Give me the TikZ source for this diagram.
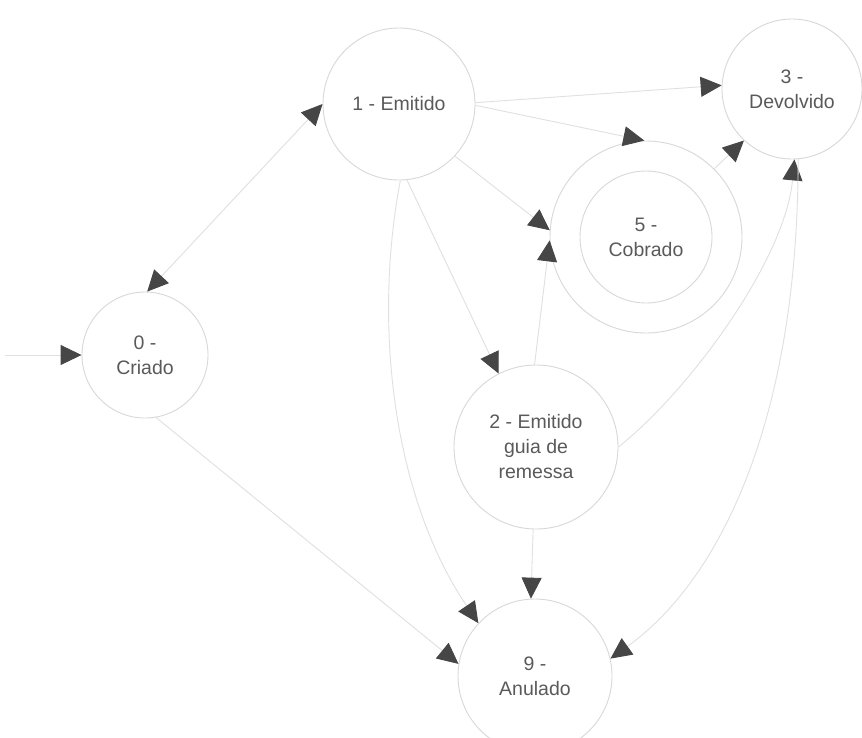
\documentclass[tikz,border=0pt]{standalone}
\usepackage{fontspec}
\setmainfont{Liberation Sans}
\usetikzlibrary{arrows.meta}
\definecolor{ringgrey}{HTML}{D8D8D8}
\definecolor{linkgrey}{HTML}{E0E0E0}
\definecolor{tipgrey}{HTML}{464646}
\definecolor{labelgrey}{HTML}{5A5A5A}
\tikzset{
  tipshape/.tip={Triangle[length=21pt,width=20pt,color=tipgrey,fill=tipgrey]},
}
\begin{document}
\begin{tikzpicture}[x=1pt,y=1pt,
  state/.style={circle, draw=ringgrey, line width=0.9pt, inner sep=0pt,
    align=center, text=labelgrey, font=\fontsize{19.5}{25}\selectfont},
  link/.style={draw=linkgrey, line width=0.9pt, -tipshape},
  twoway/.style={draw=linkgrey, line width=0.9pt, tipshape-tipshape},
]
\useasboundingbox[fill=white] (0,0) rectangle (862,-737);

% states
\node[state, minimum size=126pt] (n0) at (145,-355) {0 -\\Criado};
\node[state, minimum size=152pt] (n1) at (399,-104) {1 - Emitido};
\node[state, minimum size=140pt] (n3) at (792,-89) {3 -\\Devolvido};
\node[state, minimum size=192pt] (n5) at (646,-237) {5 -\\Cobrado};
\draw[ringgrey, line width=0.9pt] (n5.center) circle[radius=66];
\node[state, minimum size=164pt] (n2) at (536,-447) {2 - Emitido\\guia de\\remessa};
\node[state, minimum size=154pt] (n9) at (535,-676) {9 -\\Anulado};

% entry
\coordinate (start) at (5,-355);
\draw[link] (start) -- (n0.west);

% transitions
\draw[twoway] (n0.88) -- (n1.180);
\draw[link] (n1.1) -- (n3.177);
\draw[link] (n1.-1) -- (n5.91);
\draw[link] (n1.-43) -- (n5.176);
\draw[link] (n2.91) -- (n5.-178);
\draw[link] (n1.-84) -- (n2.117);
\draw[link] (n1.-89) .. controls (372,-330) and (395,-500) .. (n9.137);
\draw[link] (n0.-80) -- (n9.171);
\draw[link] (n2.-92) -- (n9.93);
\draw[link] (n2.0) .. controls (690,-390) and (785,-260) .. (n3.-88);
\draw[link] (n3.-85) .. controls (798,-420) and (720,-580) .. (n9.13);
\draw[link] (n5.45) -- (n3.227);
\end{tikzpicture}
\end{document}
